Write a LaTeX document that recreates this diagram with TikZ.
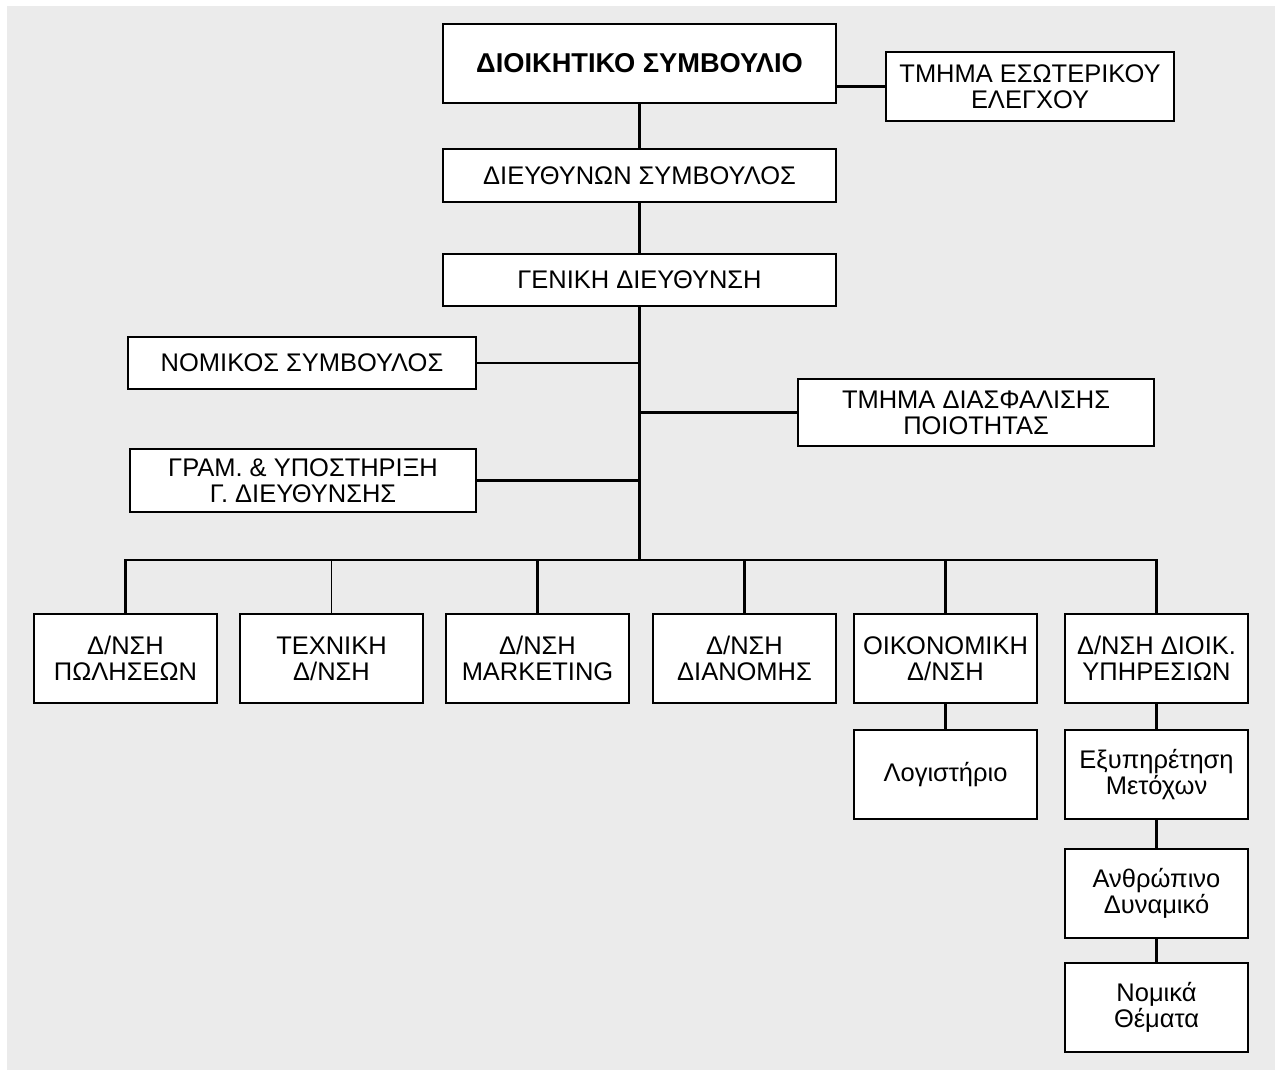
\documentclass[tikz,border=0pt]{standalone}
\usepackage{fontspec}
\setmainfont{Liberation Sans}
\usepackage{tikz}
\definecolor{bggray}{HTML}{EBEBEB}

\begin{document}
\begin{tikzpicture}[box/.style={draw, fill=white, line width=1.5pt, align=center, inner sep=0pt, minimum width=3.66cm, minimum height=1.78cm, font=\fontsize{14.5}{14.8}\selectfont}, link/.style={line width=1.25pt}]
      \useasboundingbox (0,0) rectangle (25.5,-21.4);
      \fill[white] (0,0) rectangle (25.5,-21.4);
      \fill[bggray] (0.14,-0.12) rectangle (25.5,-21.4);

      % top of the chart
      \node[box, minimum width=7.86cm, minimum height=1.58cm, font=\fontsize{15.5}{16}\selectfont\bfseries] (board) at (12.79, -1.27) {ΔΙΟΙΚΗΤΙΚΟ ΣΥΜΒΟΥΛΙΟ};
      \node[box, minimum width=5.76cm, minimum height=1.38cm] (audit) at (20.6, -1.73) {ΤΜΗΜΑ ΕΣΩΤΕΡΙΚΟΥ\\ΕΛΕΓΧΟΥ};
      \node[box, minimum width=7.86cm, minimum height=1.06cm] (ceo) at (12.79, -3.51) {ΔΙΕΥΘΥΝΩΝ ΣΥΜΒΟΥΛΟΣ};
      \node[box, minimum width=7.86cm, minimum height=1.04cm] (gm) at (12.79, -5.6) {ΓΕΝΙΚΗ ΔΙΕΥΘΥΝΣΗ};

      % staff units
      \node[box, minimum width=6.96cm, minimum height=1.04cm] (legal) at (6.04, -7.26) {ΝΟΜΙΚΟΣ ΣΥΜΒΟΥΛΟΣ};
      \node[box, minimum width=7.12cm, minimum height=1.34cm] (quality) at (19.52, -8.25) {ΤΜΗΜΑ ΔΙΑΣΦΑΛΙΣΗΣ\\ΠΟΙΟΤΗΤΑΣ};
      \node[box, minimum width=6.92cm, minimum height=1.26cm] (secr) at (6.06, -9.61) {ΓΡΑΜ. \& ΥΠΟΣΤΗΡΙΞΗ\\Γ. ΔΙΕΥΘΥΝΣΗΣ};

      % directorates
      \node[box] (sales) at (2.51, -13.17) {Δ/ΝΣΗ\\ΠΩΛΗΣΕΩΝ};
      \node[box] (tech) at (6.63, -13.17) {ΤΕΧΝΙΚΗ\\Δ/ΝΣΗ};
      \node[box] (mkt) at (10.75, -13.17) {Δ/ΝΣΗ\\MARKETING};
      \node[box] (distr) at (14.89, -13.17) {Δ/ΝΣΗ\\ΔΙΑΝΟΜΗΣ};
      \node[box] (fin) at (18.91, -13.17) {ΟΙΚΟΝΟΜΙΚΗ\\Δ/ΝΣΗ};
      \node[box] (admin) at (23.13, -13.17) {Δ/ΝΣΗ ΔΙΟΙΚ.\\ΥΠΗΡΕΣΙΩΝ};

      % sub-departments
      \node[box] (acc) at (18.91, -15.49) {Λογιστήριο};
      \node[box] (share) at (23.13, -15.49) {Εξυπηρέτηση\\Μετόχων};
      \node[box] (hr) at (23.13, -17.87) {Ανθρώπινο\\Δυναμικό};
      \node[box] (law) at (23.13, -20.15) {Νομικά\\Θέματα};

      \coordinate (hub) at (12.79, -11.2);

      \draw[link] (audit.west) -- (audit.west -| board.east);
      \draw[link] (board) -- (ceo);
      \draw[link] (ceo) -- (gm);
      \draw[link] (gm) -- (hub);
      \draw[link] (legal) -- (legal -| gm);
      \draw[link] (quality.west) -- (quality.west -| gm);
      \draw[link] (secr) -- (secr -| gm);

      \draw[link] (sales.north) |- (hub) -| (admin.north);
      \draw[thin] (tech.north) -- (tech.north |- hub);
      \draw[link] (mkt.north) -- (mkt.north |- hub);
      \draw[link] (distr.north) -- (distr.north |- hub);
      \draw[link] (fin.north) -- (fin.north |- hub);

      \draw[link] (fin) -- (acc);
      \draw[link] (admin) -- (share);
      \draw[link] (share) -- (hr);
      \draw[link] (hr) -- (law);
    \end{tikzpicture}
\end{document}
